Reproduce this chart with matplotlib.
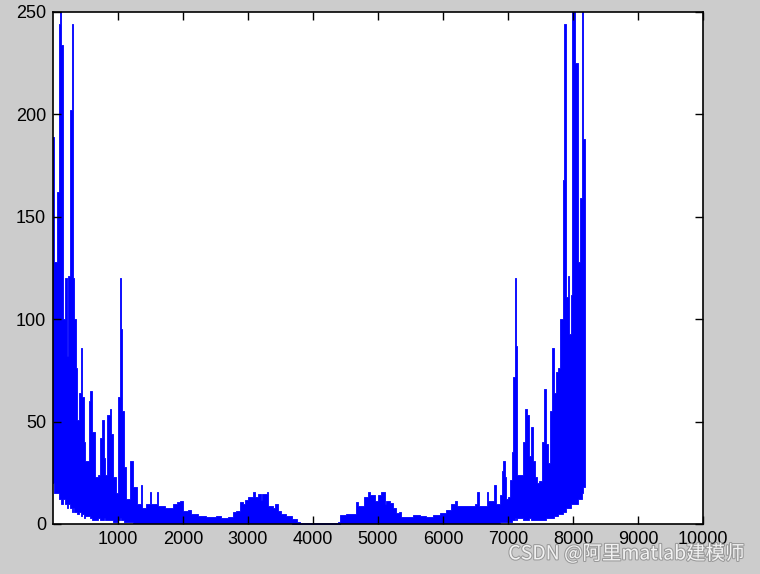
import numpy as np
import matplotlib
matplotlib.use("Agg")
import matplotlib.pyplot as plt
import matplotlib.patheffects as pe

# Spectrum envelope: segment start (sample index), max and min magnitude
seg_start = [0, 20, 56, 88, 108, 125, 150, 180, 215, 235, 265, 285, 310, 330, 350, 375, 405, 425,
             445, 470, 490, 555, 575, 605, 640, 692, 728, 759, 780, 800, 830, 872, 897, 923, 964,
             1000, 1026, 1046, 1067, 1087, 1128, 1180, 1231, 1292, 1350, 1370, 1430, 1490, 1510,
             1595, 1615, 1720, 1850, 1900, 1950, 2000, 2080, 2130, 2230, 2360, 2510, 2590, 2690,
             2770, 2820, 2870, 2920, 2960, 3000, 3080, 3100, 3150, 3200, 3215, 3290, 3310, 3380,
             3410, 3460, 3510, 3590, 3670, 3750, 3800,
             4384, 4410, 4510, 4660, 4690, 4790, 4840, 4870, 4950, 5000, 5050, 5100, 5130, 5180,
             5230, 5280, 5330, 5360, 5440, 5540, 5640, 5740, 5850, 5950, 6050, 6130, 6190, 6210,
             6490, 6530, 6550, 6670, 6690, 6790, 6810, 6870, 6905, 6930, 6950, 6970, 7000, 7035,
             7060, 7080, 7105, 7125, 7145, 7230, 7260, 7290, 7320, 7350, 7380, 7410, 7440, 7480,
             7520, 7550, 7580, 7620, 7650, 7680, 7710, 7740, 7770, 7800, 7845, 7865, 7895, 7925,
             7945, 7970, 7990, 8035, 8070, 8110, 8135, 8160]
seg_max = [189, 128, 162, 244, 262, 234, 100, 120, 82, 121, 202, 244, 120, 100, 76, 51, 64, 86,
           62, 40, 31, 60, 65, 45, 23, 24, 42, 51, 32, 24, 53, 56, 44, 23, 15,
           62, 120, 95, 55, 28, 12, 31, 18, 10, 19, 8, 10, 15.5, 10,
           15.5, 9, 8, 10, 10.7, 11, 6.5, 7, 5, 4, 3.3, 4, 3, 3.6,
           5.7, 6.5, 10.7, 10, 11.7, 13, 15.5, 13, 14.6, 11.7, 14.6, 15.5, 9, 8,
           10, 6.5, 5, 4, 2.4, 0.8, 0.5,
           1.2, 4.4, 4.9, 10.9, 9, 13, 15.8, 14, 11, 14, 15.8, 9.8, 11.4, 10.4,
           7.7, 5.2, 6, 3.6, 3.3, 4.2, 3.7, 3.3, 4.4, 5.2, 6.8, 10, 11.4, 9,
           10, 15.8, 9, 15.8, 11, 19, 10, 14, 26, 31, 23, 12, 13, 21.5,
           35, 72, 120, 87, 24, 40, 56, 53, 33, 47.5, 31, 23, 20, 21,
           40, 66, 39, 30, 55, 86, 64, 74, 76, 100, 168, 244, 111, 121,
           93, 112, 262, 225, 128, 159, 262, 188]
seg_min = [20, 15, 15, 12, 12, 10, 12, 10, 8, 10, 8, 6, 8, 6, 6, 5, 6, 4,
           5, 3, 4, 4, 3, 2, 2, 3, 2, 2, 3, 2, 2, 2, 2, 1, 1,
           2, 3, 2, 2, 1, 1, 1, 0.5, 0.5, 0.5, 0.5, 0.5, 0.5, 0.5,
           0.5, 0.5, 0.5, 0.5, 0.5, 0.5, 0.5, 0.3, 0.3, 0.3, 0.3, 0.3, 0.3, 0.3,
           0.3, 0.3, 0.3, 0.3, 0.5, 0.5, 0.5, 0.5, 0.5, 0.5, 0.5, 0.5, 0.5, 0.3,
           0.3, 0.3, 0.3, 0.3, 0.2, 0.2, 0.1,
           0.2, 0.3, 0.3, 0.5, 0.5, 0.5, 0.5, 0.5, 0.5, 0.5, 0.5, 0.5, 0.5, 0.5,
           0.5, 0.3, 0.3, 0.3, 0.3, 0.3, 0.3, 0.3, 0.3, 0.3, 0.3, 0.5, 0.5, 0.5,
           0.5, 0.5, 0.5, 0.5, 0.5, 0.5, 0.5, 1, 1, 1, 1, 1, 1, 1,
           2, 2, 3, 2, 3, 2, 2, 2, 3, 2, 2, 2, 2, 2,
           2, 2, 3, 3, 3, 3, 4, 4, 5, 5, 6, 6, 8, 8,
           8, 10, 10, 10, 12, 12, 15, 18]
n_samples = 8192

x_ticks = [1000, 2000, 3000, 4000, 5000, 6000, 7000, 8000, 9000, 10000]
y_ticks = [0, 50, 100, 150, 200, 250]

plt.rcParams['font.family'] = ['Liberation Sans', 'DejaVu Sans']

fig = plt.figure(figsize=(7.6, 5.74), dpi=100, facecolor='#cccccc')
ax = fig.add_axes([53 / 760, 50 / 574, 650 / 760, 512 / 574])
ax.set_facecolor('white')

xe = np.append(seg_start, n_samples)
hi = np.append(seg_max, seg_max[-1])
lo = np.append(seg_min, seg_min[-1])
ax.fill_between(xe, lo, hi, step='post', color='#0000ff', linewidth=0.6, edgecolor='#0000ff')

ax.set_xlim(0, 10000)
ax.set_ylim(0, 250)
ax.set_xticks(x_ticks)
ax.set_yticks(y_ticks)
ax.set_xticklabels([str(t) for t in x_ticks])
ax.set_yticklabels([str(t) for t in y_ticks])
ax.tick_params(direction='in', length=6, width=1, top=True, right=True,
               labelsize=13, colors='black', pad=5)
for s in ax.spines.values():
    s.set_linewidth(1.2)
    s.set_color('black')

fig.text(0.98, 0.035, 'CSDN @阿里matlab建模师', ha='right', va='center', fontsize=14,
         color='#f2f2f2', family=['Noto Sans CJK SC', 'DejaVu Sans'],
         path_effects=[pe.withStroke(linewidth=1.5, foreground='#999999')])

fig.savefig('out.png', dpi=100, facecolor=fig.get_facecolor())
